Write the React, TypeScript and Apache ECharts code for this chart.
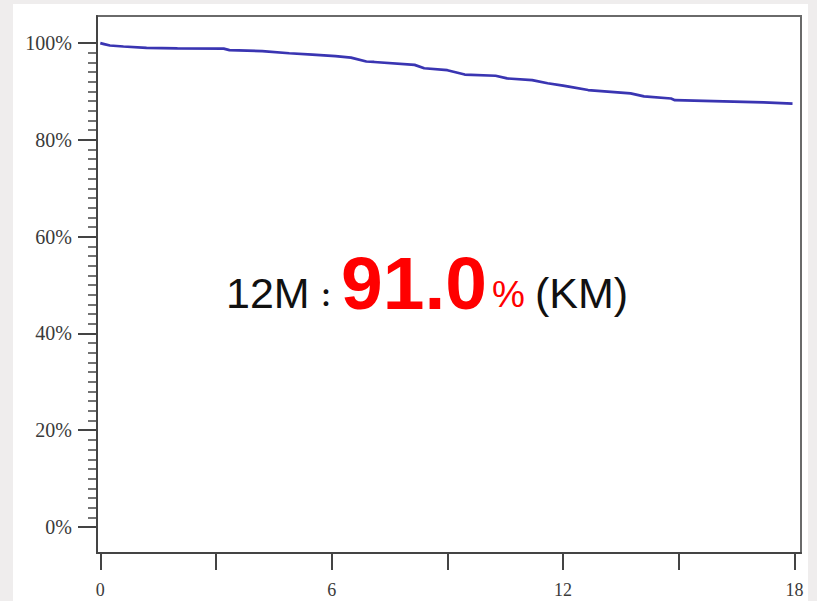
import React, { useEffect, useRef } from "react";
import * as echarts from "echarts";

// Kaplan–Meier curve (months, % event-free)
const months = [0, 0.1, 0.25, 0.6, 1.2, 2.0, 3.2, 3.35, 4.2, 4.9, 5.5, 6.1, 6.5, 6.9, 7.1, 8.15, 8.4, 9.0, 9.45, 10.25, 10.55, 11.2, 11.6, 12.0, 12.15, 12.65, 13.75, 14.1, 14.8, 14.9, 15.9, 17.2, 17.95];
const survival = [100, 99.8, 99.5, 99.3, 99.0, 98.9, 98.85, 98.55, 98.35, 97.9, 97.6, 97.3, 97.0, 96.2, 96.1, 95.5, 94.8, 94.4, 93.5, 93.25, 92.7, 92.35, 91.7, 91.2, 91.0, 90.3, 89.6, 89.0, 88.55, 88.2, 88.0, 87.75, 87.5];

const xTickValues = [0, 3, 6, 9, 12, 15, 18];
const xLabelValues = [0, 6, 12, 18];
const yTickValues = [0, 20, 40, 60, 80, 100];
const yMinorTickValues = [0, 2, 4, 6, 8, 10, 12, 14, 16, 18, 20, 22, 24, 26, 28, 30, 32, 34, 36, 38, 40, 42, 44, 46, 48, 50, 52, 54, 56, 58, 60, 62, 64, 66, 68, 70, 72, 74, 76, 78, 80, 82, 84, 86, 88, 90, 92, 94, 96, 98, 100];

const labelPrefix = "12M";
const labelColon = "：";
const labelValue = "91.0";
const labelPercent = "%";
const labelSuffix = "(KM)";

const X_MIN = -0.085;
const X_MAX = 18.17;
const Y_MIN = -5.37;
const Y_MAX = 105.6;

export default function App() {
  const ref = useRef<HTMLDivElement>(null);
  useEffect(() => {
    if (!ref.current) return;
    const chart = echarts.init(ref.current, undefined, { renderer: "svg" });
    const serif = "Liberation Serif, Times New Roman, serif";
    const sans = "Liberation Sans, Arial, sans-serif";
    const data = months.map((m, i) => [m, survival[i]]);
    const baseline = 306;
    chart.setOption({
      animation: false,
      backgroundColor: "transparent",
      grid: {
        left: 97,
        right: 817 - 801,
        top: 16,
        bottom: 601 - 553,
        show: true,
        borderColor: "#6a6a6a",
        borderWidth: 2,
        backgroundColor: "transparent",
      },
      xAxis: {
        type: "value",
        min: X_MIN,
        max: X_MAX,
        axisLine: { show: true, onZero: false, lineStyle: { color: "#444", width: 2 } },
        axisTick: { show: true, inside: false, customValues: xTickValues, length: 17, lineStyle: { color: "#444", width: 2 } },
        axisLabel: {
          customValues: xLabelValues,
          color: "#3a3a3a",
          fontFamily: serif,
          fontSize: 18,
          margin: 28,
        },
        splitLine: { show: false },
      },
      yAxis: [
        {
          type: "value",
          min: Y_MIN,
          max: Y_MAX,
          axisLine: { show: true, onZero: false, lineStyle: { color: "#444", width: 2 } },
          axisTick: { show: true, inside: false, customValues: yTickValues, length: 19, lineStyle: { color: "#444", width: 2 } },
          axisLabel: {
            customValues: yTickValues,
            formatter: (v: number) => `${Math.round(v)}%`,
            color: "#3a3a3a",
            fontFamily: serif,
            fontSize: 20,
            margin: 25,
          },
          splitLine: { show: false },
        },
        {
          type: "value",
          min: Y_MIN,
          max: Y_MAX,
          position: "left",
          offset: 0,
          axisLine: { show: false, onZero: false },
          axisTick: { show: true, inside: false, customValues: yMinorTickValues, length: 9, lineStyle: { color: "#444", width: 1.5 } },
          axisLabel: { show: false },
          splitLine: { show: false },
        },
      ],
      series: [
        {
          type: "line",
          data,
          showSymbol: false,
          symbol: "none",
          lineStyle: { color: "#3a35b2", width: 2.7 },
          z: 3,
        },
      ],
      graphic: [
        {
          type: "rect",
          z: -10,
          silent: true,
          shape: { x: 13, y: 4, width: 795, height: 597 },
          style: { fill: "#ffffff" },
        },
        {
          type: "text",
          x: 226,
          y: baseline - 0.31 * 43,
          style: { text: labelPrefix, fill: "#111", font: `43px ${sans}`, textAlign: "left", verticalAlign: "middle" },
        },
        {
          type: "text",
          x: 326,
          y: 296,
          style: { text: labelColon, fill: "#111", font: `bold 25px "Noto Sans CJK JP"`, textAlign: "center", verticalAlign: "middle" },
        },
        {
          type: "text",
          x: 341,
          y: baseline - 0.31 * 75,
          style: { text: labelValue, fill: "#ff0000", font: `bold 75px ${sans}`, textAlign: "left", verticalAlign: "middle" },
        },
        {
          type: "text",
          x: 492,
          y: baseline - 0.31 * 37,
          style: { text: labelPercent, fill: "#ff0000", font: `37px ${sans}`, textAlign: "left", verticalAlign: "middle" },
        },
        {
          type: "text",
          x: 535,
          y: baseline - 0.31 * 43,
          style: { text: labelSuffix, fill: "#111", font: `43px ${sans}`, textAlign: "left", verticalAlign: "middle" },
        },
      ],
    });
    return () => chart.dispose();
  }, []);
  return (
    <div
      ref={ref}
      style={{ width: 817, height: 601, position: "fixed", left: 0, top: 0, background: "#efeded" }}
    />
  );
}
